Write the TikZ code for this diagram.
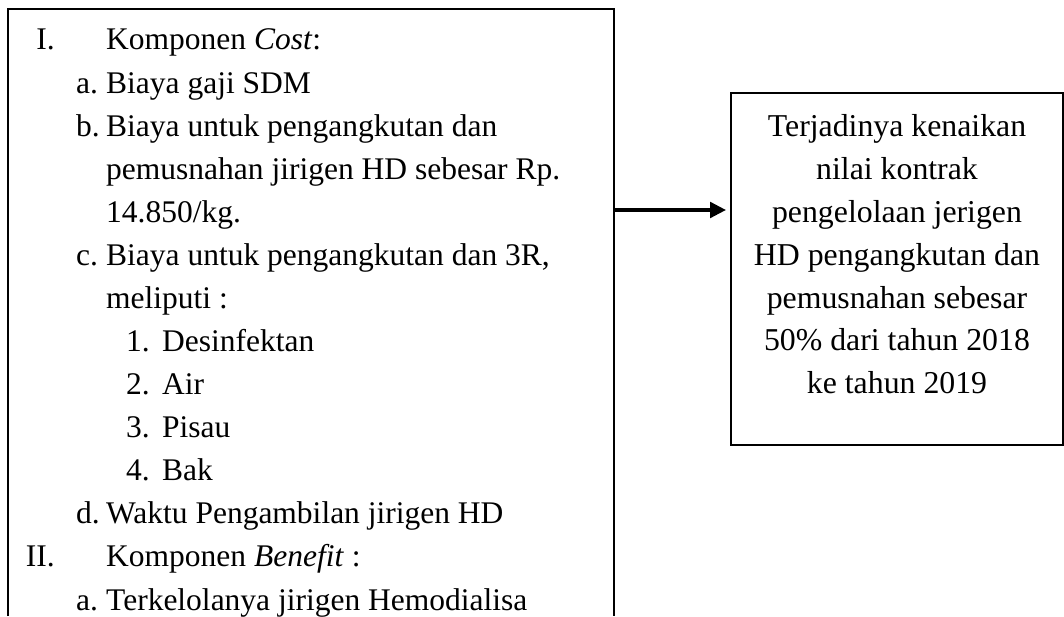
\documentclass[tikz,border=0pt]{standalone}
\usepackage{fontspec}
\setmainfont{Liberation Serif}
\usetikzlibrary{arrows.meta}
\begin{document}
\begin{tikzpicture}[x=1pt,y=1pt,
  frame/.style={line width=1.8pt, line join=miter},
  ltxt/.style={inner sep=0pt, anchor=base west, font=\fontsize{31.5}{38}\selectfont},
  lnum/.style={inner sep=0pt, anchor=base east, font=\fontsize{31.5}{38}\selectfont},
  rtxt/.style={inner sep=0pt, anchor=base, font=\fontsize{31.8}{38}\selectfont},
  link/.style={line width=3.5pt, -{Triangle[length=16pt,width=15.6pt]}, shorten >=4pt}
]
\useasboundingbox (0,0) rectangle (1064,616);

% left box (open at the bottom, cut by the page)
\draw[frame] (8,0) -- (8,607) -- (614,607) -- (614,0);
\coordinate (src) at (614,406);

% left list
\node[lnum] (n1) at (55,566) {I.};
\node[ltxt] (t1) at (106,566) {Komponen \textit{Cost}:};
\node[ltxt] (n2) at (76,522.92) {a.};
\node[ltxt] (t2) at (106,522.92) {Biaya gaji SDM};
\node[ltxt] (n3) at (76,479.84) {b.};
\node[ltxt] (t3) at (106,479.84) {Biaya untuk pengangkutan dan};
\node[ltxt] (t4) at (106,436.76) {pemusnahan jirigen HD sebesar Rp.};
\node[ltxt] (t5) at (106,393.68) {14.850/kg.};
\node[ltxt] (n6) at (76,350.6) {c.};
\node[ltxt] (t6) at (106,350.6) {Biaya untuk pengangkutan dan 3R,};
\node[ltxt] (t7) at (106,307.52) {meliputi :};
\node[ltxt] (n8) at (126,264.44) {1.};
\node[ltxt] (t8) at (162,264.44) {Desinfektan};
\node[ltxt] (n9) at (126,221.36) {2.};
\node[ltxt] (t9) at (162,221.36) {Air};
\node[ltxt] (n10) at (126,178.28) {3.};
\node[ltxt] (t10) at (162,178.28) {Pisau};
\node[ltxt] (n11) at (126,135.2) {4.};
\node[ltxt] (t11) at (162,135.2) {Bak};
\node[ltxt] (n12) at (76,92.12) {d.};
\node[ltxt] (t12) at (106,92.12) {Waktu Pengambilan jirigen HD};
\node[lnum] (n13) at (55,49.04) {II.};
\node[ltxt] (t13) at (106,49.04) {Komponen \textit{Benefit} :};
\node[ltxt] (n14) at (76,5.96) {a.};
\node[ltxt] (t14) at (106,5.96) {Terkelolanya jirigen Hemodialisa};

% right box
\node[draw, frame, anchor=north west, minimum width=332pt, minimum height=352pt, inner sep=0pt] (result) at (730,524) {};
\node[rtxt] (r1) at (897,479) {Terjadinya kenaikan};
\node[rtxt] (r2) at (897,436.2) {nilai kontrak};
\node[rtxt] (r3) at (897,393.4) {pengelolaan jerigen};
\node[rtxt] (r4) at (897,350.6) {HD pengangkutan dan};
\node[rtxt] (r5) at (897,307.8) {pemusnahan sebesar};
\node[rtxt] (r6) at (897,265) {50\% dari tahun 2018};
\node[rtxt] (r7) at (897,222.2) {ke tahun 2019};

% arrow
\draw[link] (src) -- (result.west |- src);
\end{tikzpicture}
\end{document}
